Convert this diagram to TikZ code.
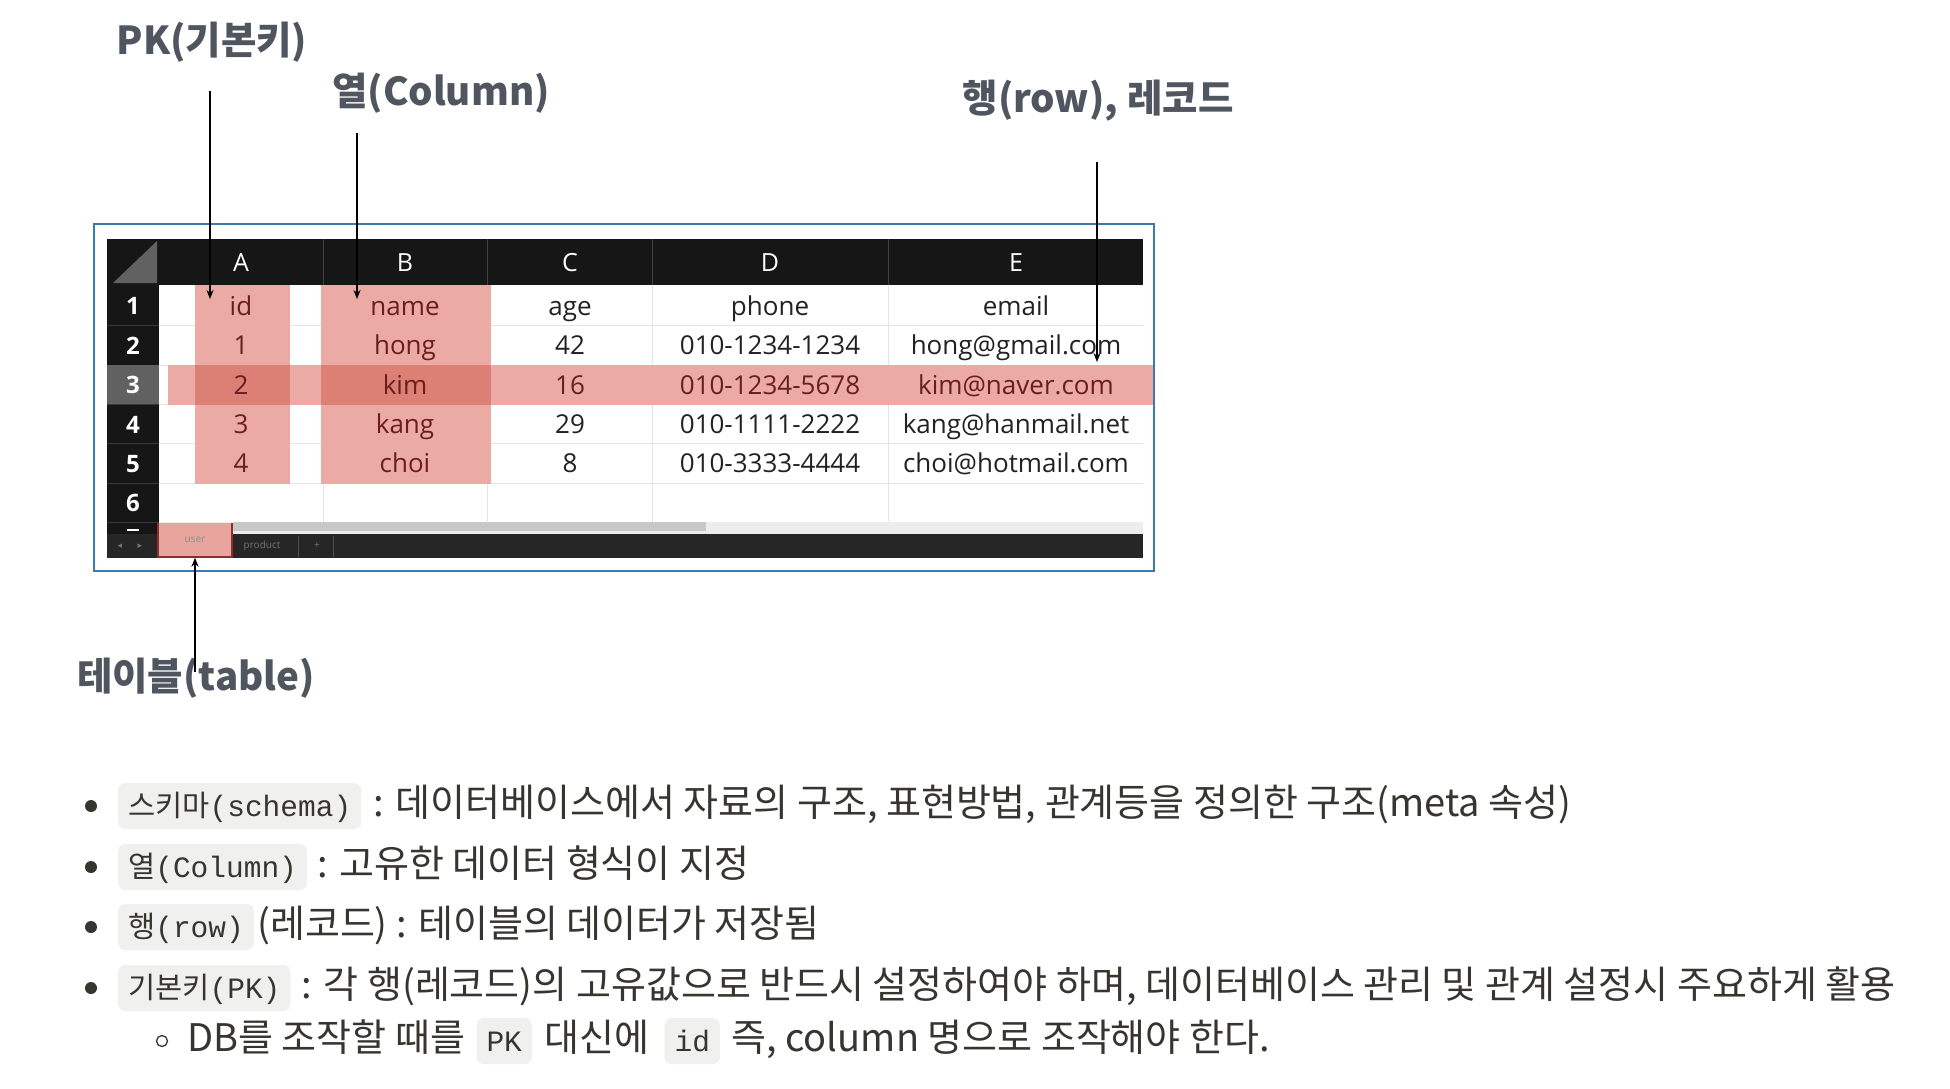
\documentclass[tikz,border=0pt]{standalone}
\usepackage{fontspec}
\setmainfont{Noto Sans CJK KR}
\newfontfamily\kr{Noto Sans CJK KR}
\newfontfamily\tb{Open Sans}
\newfontfamily\mono{Liberation Mono}
\newfontfamily\sym{DejaVu Sans}
\usetikzlibrary{arrows.meta}
\definecolor{frameblue}{HTML}{3A7BAA}
\definecolor{hl}{HTML}{EBABA4}
\definecolor{hldark}{HTML}{DC7F74}
\definecolor{hltext}{HTML}{6A1E1E}
\definecolor{celltext}{HTML}{222222}
\definecolor{gridc}{HTML}{E4E4E4}
\definecolor{hdr}{HTML}{161616}
\definecolor{lbl}{HTML}{50565F}
\definecolor{bodyc}{HTML}{37352F}
\definecolor{codebg}{HTML}{F0F0EE}
\definecolor{tabpink}{HTML}{E8A59E}
\definecolor{tabred}{HTML}{8B2E2E}
\newcommand\mybody{\kr\fontsize{38}{44}\selectfont}
\newcommand\mycode{\fontsize{29.5}{34}\selectfont}
\begin{document}
\begin{tikzpicture}[x=1pt,y=-1pt,
  arr/.style={line width=1.8pt, black, -{Stealth[length=9pt,width=7pt]}},
  lab/.style={font=\kr\bfseries\fontsize{38.5}{44}\selectfont, text=lbl, inner sep=0},
  hd/.style={font=\tb\fontsize{25}{28}\selectfont, text=white, inner sep=0, anchor=base},
  rn/.style={font=\tb\bfseries\fontsize{24}{28}\selectfont, text=white, inner sep=0, anchor=base},
  cell/.style={font=\tb\fontsize{26}{30}\selectfont, text=celltext, inner sep=0, anchor=base},
  hcell/.style={cell, text=hltext},
  code/.style={fill=codebg, rounded corners=7pt, inner xsep=10pt, inner ysep=8pt, text height=25pt, text depth=5pt, font=\mycode, text=bodyc, anchor=base west},
  bodytxt/.style={font=\mybody, text=bodyc, inner sep=0, anchor=base west},
  tiny/.style={font=\tb\fontsize{10}{12}\selectfont, inner sep=0}
]
\useasboundingbox (0,0) rectangle (1950,1088);
\fill[white] (0,0) rectangle (1950,1088);

% frame
\draw[frameblue, line width=2pt] (94,224) rectangle (1154,571);
% header and row-number column
\fill[hdr] (107,239) rectangle (1143,285);
\fill[hdr] (107,239) rectangle (159,558);
% corner triangle
\fill[black!62] (113,283) -- (157,283) -- (157,241) -- cycle;
% grid lines
\foreach \yy in {325,365,404,443,483,522} {
  \draw[gridc, line width=1pt] (159,\yy) -- (1143,\yy);
  \draw[black!78, line width=1pt] (107,\yy) -- (159,\yy);
}
\foreach \xx in {323,487,652,888} {
  \draw[gridc, line width=1pt] (\xx,285) -- (\xx,522);
  \draw[black!75, line width=1pt] (\xx,239) -- (\xx,285);
}
% highlights
\fill[hl] (195,285) rectangle (290,484);
\fill[hl] (321,285) rectangle (491,484);
\fill[hl] (168,365) rectangle (1153,405);
\fill[hldark] (195,365) rectangle (290,405);
\fill[hldark] (321,365) rectangle (491,405);
\fill[black!62] (107,365) rectangle (159,404);

% header letters
\node[hd] (hA) at (241,271) {A};
\node[hd] (hB) at (405,271) {B};
\node[hd] (hC) at (570,271) {C};
\node[hd] (hD) at (770,271) {D};
\node[hd] (hE) at (1016,271) {E};
% row numbers
\node[rn] (n1) at (133,314) {1};
\node[rn] (n2) at (133,354) {2};
\node[rn] (n3) at (133,393) {3};
\node[rn] (n4) at (133,433) {4};
\node[rn] (n5) at (133,472) {5};
\node[rn] (n6) at (133,511) {6};
% cells
\node[hcell] (c1a) at (241,315) {id};
\node[hcell] (c1b) at (405,315) {name};
\node[cell]  (c1c) at (570,315) {age};
\node[cell]  (c1d) at (770,315) {phone};
\node[cell]  (c1e) at (1016,315) {email};
\node[hcell] (c2a) at (241,354) {1};
\node[hcell] (c2b) at (405,354) {hong};
\node[cell]  (c2c) at (570,354) {42};
\node[cell]  (c2d) at (770,354) {010-1234-1234};
\node[cell]  (c2e) at (1016,354) {hong@gmail.com};
\node[hcell] (c3a) at (241,394) {2};
\node[hcell] (c3b) at (405,394) {kim};
\node[hcell] (c3c) at (570,394) {16};
\node[hcell] (c3d) at (770,394) {010-1234-5678};
\node[hcell] (c3e) at (1016,394) {kim@naver.com};
\node[hcell] (c4a) at (241,433) {3};
\node[hcell] (c4b) at (405,433) {kang};
\node[cell]  (c4c) at (570,433) {29};
\node[cell]  (c4d) at (770,433) {010-1111-2222};
\node[cell]  (c4e) at (1016,433) {kang@hanmail.net};
\node[hcell] (c5a) at (241,472) {4};
\node[hcell] (c5b) at (405,472) {choi};
\node[cell]  (c5c) at (570,472) {8};
\node[cell]  (c5d) at (770,472) {010-3333-4444};
\node[cell]  (c5e) at (1016,472) {choi@hotmail.com};

% scroll area and bottom bar
\fill[black!7] (159,522) rectangle (1143,534);
\fill[black!22] (233,522) rectangle (706,531);
\draw[white, line width=2.5pt] (127,530) -- (139,530);
\fill[black!85] (107,534) rectangle (1143,558);
\node[tiny, text=black!55, font=\sym\fontsize{9}{10}\selectfont] (arl) at (120,546) {◂};
\node[tiny, text=black!55, font=\sym\fontsize{9}{10}\selectfont] (arr2) at (140,546) {▸};
\node[tiny, text=black!55] (prod) at (262,546) {product};
\draw[black!70, line width=1pt] (298,536) -- (298,557);
\node[tiny, text=black!55] (plus) at (317,546) {+};
\draw[black!70, line width=1pt] (333,536) -- (333,557);
\node[fill=tabpink, minimum width=76pt, minimum height=35pt, inner sep=0, tiny, text=black!45] (tab) at (195,540) {user};
\draw[tabred, line width=2.5pt] (158,523) -- (158,557) -- (232,557) -- (232,523);

% labels
\node[lab] (pk) at (212,42) {PK(기본키)};
\node[lab] (col) at (441,93) {열(Column)};
\node[lab] (rowlbl) at (1098,101) {행(row), 레코드};
\node[lab] (tbl) at (196,678) {테이블(table)};

% connectors
\coordinate (pkS) at (210,91);
\coordinate (pkE) at (210,299);
\coordinate (colS) at (357,133);
\coordinate (colE) at (357,299);
\coordinate (rowS) at (1097,162);
\coordinate (rowE) at (1097,362);
\coordinate (tblS) at (195,672);
\draw[arr] (pkS) -- (pkE);
\draw[arr] (colS) -- (colE);
\draw[arr] (rowS) -- (rowE);
\draw[arr] (tblS) -- (tab.south);

% bullet list
\fill[bodyc] (91,806) circle (6);
\fill[bodyc] (91,867) circle (6);
\fill[bodyc] (91,927) circle (6);
\fill[bodyc] (91,988) circle (6);
\draw[bodyc, line width=1.3pt] (162,1041) circle (5.5);

\node[code] (b1) at (118,816) {{\kr 스키마}{\mono (schema)}};
\node[bodytxt] (t1) at ([xshift=12pt]b1.base east) {: 데이터베이스에서 자료의 구조, 표현방법, 관계등을 정의한 구조(meta 속성)};

\node[code] (b2) at (118,877) {{\kr 열}{\mono (Column)}};
\node[bodytxt] (t2) at ([xshift=10pt]b2.base east) {: 고유한 데이터 형식이 지정};

\node[code] (b3) at (118,937) {{\kr 행}{\mono (row)}};
\node[bodytxt] (t3) at ([xshift=3pt]b3.base east) {(레코드) : 테이블의 데이터가 저장됨};

\node[code] (b4) at (118,998) {{\kr 기본키}{\mono (PK)}};
\node[bodytxt] (t4) at ([xshift=11pt]b4.base east) {: 각 행(레코드)의 고유값으로 반드시 설정하여야 하며, 데이터베이스 관리 및 관계 설정시 주요하게 활용};

\node[bodytxt] (s1) at (187,1051) {DB를 조작할 때를};
\node[code] (s2) at ([xshift=11pt]s1.base east) {{\mono PK}};
\node[bodytxt] (s3) at ([xshift=12pt]s2.base east) {대신에};
\node[code] (s4) at ([xshift=15pt]s3.base east) {{\mono id}};
\node[bodytxt] (s5) at ([xshift=11pt]s4.base east) {즉, column 명으로 조작해야 한다.};
\end{tikzpicture}
\end{document}
